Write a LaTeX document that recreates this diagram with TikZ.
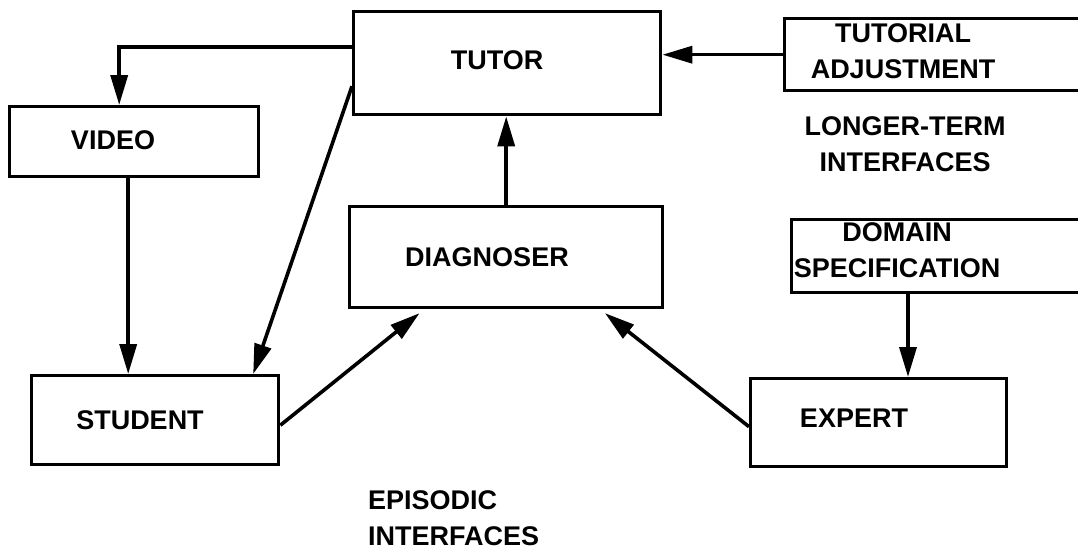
\documentclass[tikz,border=0pt]{standalone}
\usepackage{fontspec}
\setmainfont{Liberation Sans}
\usetikzlibrary{arrows.meta}

\tikzset{
  box/.style={draw, line width=3.4pt, inner sep=0pt, anchor=north west},
  lbl/.style={font=\bfseries\fontsize{27}{36}\selectfont, inner sep=0pt, align=center},
  arr/.style={line width=3.6pt, -{Triangle[length=30pt,width=17pt]}},
}

\begin{document}
\begin{tikzpicture}[x=1pt,y=-1pt]

\useasboundingbox (0,0) rectangle (1078,551);
\clip (0,0) rectangle (1078,551);

% Draw boxes
\node[box, minimum width=307pt, minimum height=103pt] (tutor) at (352,10) {};
\node[box, minimum width=249pt, minimum height=70pt] (video) at (8,105) {};
\node[box, minimum width=313pt, minimum height=101pt] (diag) at (348,205) {};
\node[box, minimum width=247pt, minimum height=89pt] (student) at (30,374) {};
\node[box, minimum width=256pt, minimum height=88pt] (expert) at (749,377) {};
\node[box, minimum width=320pt, minimum height=72pt] (tadj) at (783,17) {};
\node[box, minimum width=320pt, minimum height=73pt] (domain) at (790,218) {};

% Box texts
\node[lbl] (tutortxt) at (497,60) {TUTOR};
\node[lbl] (videotxt) at (113,140) {VIDEO};
\node[lbl] (diagtxt) at (487,257) {DIAGNOSER};
\node[lbl] (studenttxt) at (140,420) {STUDENT};
\node[lbl] (experttxt) at (854,418) {EXPERT};
\node[lbl] (tadjtxt) at (903,51) {TUTORIAL\\ADJUSTMENT};
\node[lbl] (domaintxt) at (897,250) {DOMAIN\\SPECIFICATION};

% Interface labels
\node[lbl] (longer) at (905,144) {LONGER-TERM\\INTERFACES};
\node[lbl, align=left, anchor=west] (episodic) at (368,518) {EPISODIC\\INTERFACES};

% Draw arrows
\draw[arr] ([yshift=16pt]tutor.west) -| ([xshift=-15pt]video.north);
\draw[arr] ([xshift=-6pt]video.south) -- ([xshift=-6pt]video.south |- student.north);
\draw[arr] ([yshift=-23pt]tutor.west) -- ([xshift=98pt]student.north);
\draw[arr] (diag.north) -- (diag.north |- tutor.south);
\draw[arr] (tadj.west) -- (tadj.west -| tutor.east);
\draw[arr] ([xshift=118pt]domain.south west) -- ([xshift=118pt]domain.south west |- expert.north);
\draw[arr, shorten >=6pt] ([yshift=-5pt]student.east) -- ([xshift=-82pt]diag.south);
\draw[arr, shorten >=6pt] ([yshift=-4pt]expert.west) -- ([xshift=94pt]diag.south);

\end{tikzpicture}
\end{document}
